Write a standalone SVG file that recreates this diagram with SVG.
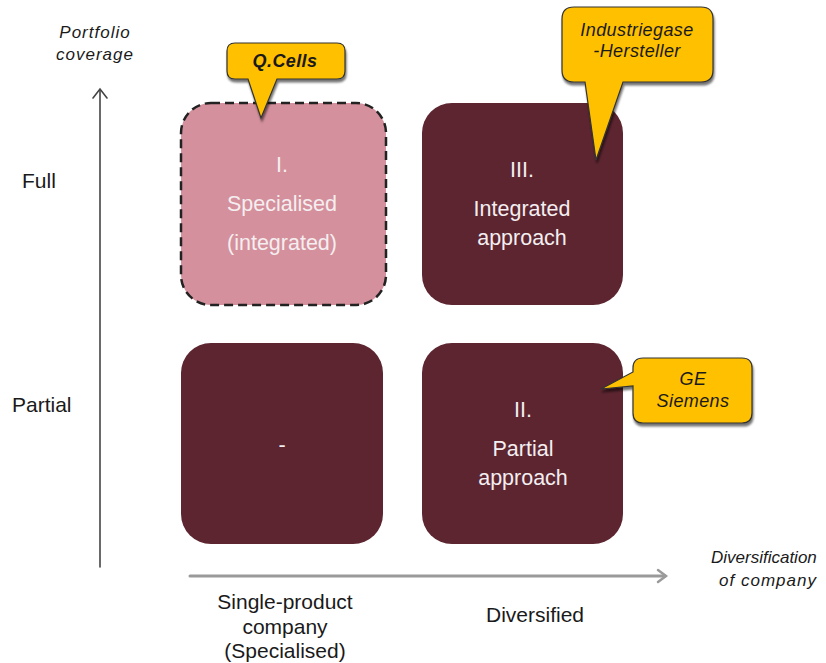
<svg xmlns="http://www.w3.org/2000/svg" width="826" height="663" viewBox="0 0 826 663">
  <style>
    .box { fill: #5c2530; }
    .box-light { fill: #d4909c; stroke: #222; stroke-width: 2.5; stroke-dasharray: 9 5; }
    .box-text { font-family: "Liberation Sans", Arial, sans-serif; font-size: 21.5px; fill: #f4eef0; text-anchor: middle; }
    .axis-label { font-family: "Liberation Sans", Arial, sans-serif; font-size: 21px; fill: #1a1a1a; }
    .axis-title { font-family: "Liberation Sans", Arial, sans-serif; font-size: 17px; letter-spacing: 1px; font-style: italic; fill: #1a1a1a; text-anchor: middle; }
    .axis-title.tight { letter-spacing: 0; text-anchor: start; }
    .callout { fill: #ffc000; stroke: #333; stroke-width: 1.2; filter: url(#shadow); }
    .callout-text { font-family: "Liberation Sans", Arial, sans-serif; font-size: 18px; letter-spacing: 0.4px; font-style: italic; fill: #1a1a1a; text-anchor: middle; }
  </style>
  <defs>
    <filter id="shadow" x="-20%" y="-20%" width="140%" height="150%">
      <feDropShadow dx="1" dy="3" stdDeviation="1.2" flood-color="#000" flood-opacity="0.55"/>
    </filter>
  </defs>

  <rect width="826" height="663" fill="#ffffff"/>

  <!-- axes -->
  <g id="connectors" fill="none" stroke-linecap="round">
    <line x1="100" y1="567" x2="100" y2="90" stroke="#444" stroke-width="1.6"/>
    <polyline points="93,98 100,89 107,98" stroke="#444" stroke-width="1.6"/>
    <line x1="190" y1="576" x2="665" y2="576" stroke="#9a9a9a" stroke-width="3"/>
    <polyline points="658,570 666,576 658,582" stroke="#9a9a9a" stroke-width="2.5"/>
  </g>

  <!-- axis labels -->
  <g id="axis-labels">
    <text class="axis-title" x="95" y="38">Portfolio</text>
    <text class="axis-title" x="95" y="60">coverage</text>
    <text class="axis-label" x="22" y="188">Full</text>
    <text class="axis-label" x="12" y="412">Partial</text>
    <text class="axis-label" x="285" y="609" text-anchor="middle">Single-product</text>
    <text class="axis-label" x="285" y="634" text-anchor="middle">company</text>
    <text class="axis-label" x="285" y="658" text-anchor="middle">(Specialised)</text>
    <text class="axis-label" x="535" y="622" text-anchor="middle">Diversified</text>
    <text class="axis-title tight" x="711" y="563">Diversification</text>
    <text class="axis-title" x="768" y="586">of company</text>
  </g>

  <!-- quadrant I -->
  <g id="specialised">
    <rect class="box-light" x="181" y="103" width="205" height="202" rx="30"/>
    <text class="box-text" x="282" y="172">I.</text>
    <text class="box-text" x="282" y="211">Specialised</text>
    <text class="box-text" x="282" y="250">(integrated)</text>
  </g>

  <!-- quadrant III -->
  <g id="integrated">
    <rect class="box" x="422" y="103" width="201" height="202" rx="30"/>
    <text class="box-text" x="522" y="177">III.</text>
    <text class="box-text" x="522" y="216">Integrated</text>
    <text class="box-text" x="522" y="245">approach</text>
  </g>

  <!-- empty quadrant -->
  <g id="empty">
    <rect class="box" x="181" y="343" width="202" height="201" rx="30"/>
    <text class="box-text" x="282" y="452">-</text>
  </g>

  <!-- quadrant II -->
  <g id="partial">
    <rect class="box" x="422" y="343" width="201" height="201" rx="30"/>
    <text class="box-text" x="523" y="417">II.</text>
    <text class="box-text" x="523" y="456">Partial</text>
    <text class="box-text" x="523" y="485">approach</text>
  </g>

  <!-- callouts -->
  <g id="callout-qcells">
    <path class="callout" d="M235,43 H337 Q345,43 345,51 V71 Q345,79 337,79 H277 L261,118 L248,79 H235 Q227,79 227,71 V51 Q227,43 235,43 Z"/>
    <text class="callout-text" x="285" y="67" font-size="17" font-weight="bold">Q.Cells</text>
  </g>

  <g id="callout-industriegase">
    <path class="callout" d="M574,7 H701 Q713,7 713,19 V70 Q713,82 701,82 H623 L596,160 L585,82 H574 Q562,82 562,70 V19 Q562,7 574,7 Z"/>
    <text class="callout-text" x="637" y="36">Industriegase</text>
    <text class="callout-text" x="637" y="57">-Hersteller</text>
  </g>

  <g id="callout-ge">
    <path class="callout" d="M643,358 H742 Q752,358 752,368 V413 Q752,423 742,423 H643 Q633,423 633,413 V386 L601,389 L633,372 V368 Q633,358 643,358 Z"/>
    <text class="callout-text" x="693" y="385">GE</text>
    <text class="callout-text" x="693" y="407">Siemens</text>
  </g>
</svg>
